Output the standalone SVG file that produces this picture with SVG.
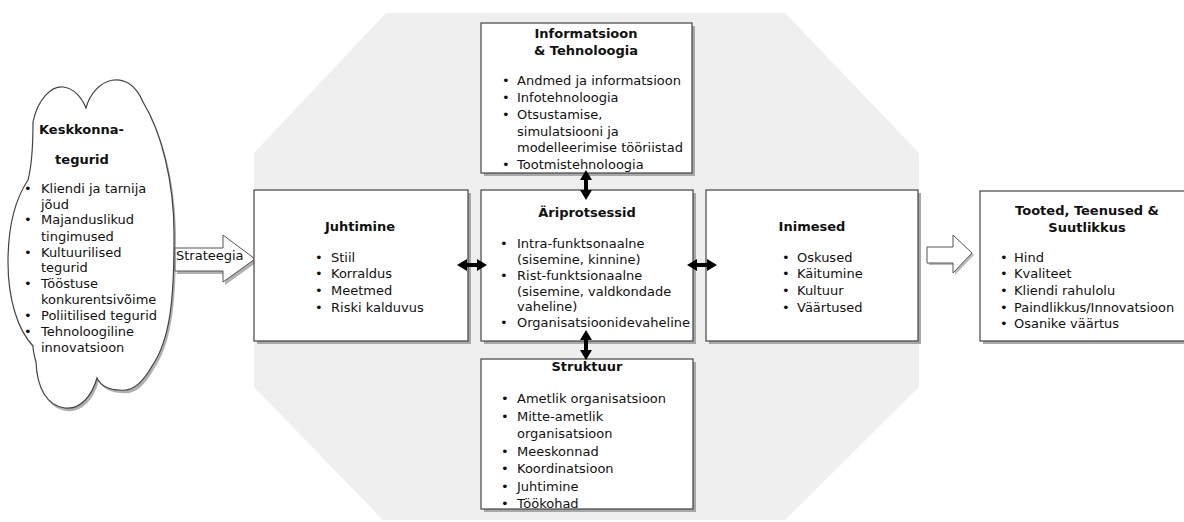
<svg xmlns="http://www.w3.org/2000/svg" width="1184" height="522" viewBox="0 0 1184 522">
<style>
text{font-family:"DejaVu Sans",Verdana,sans-serif;font-size:13px;fill:#111}
.b{font-weight:bold}
.m{text-anchor:middle}
.box{fill:#fff;stroke:#444;stroke-width:1.2}
.sh{fill:#a8a8a8}
.dbl{fill:#000}
.blk{fill:#fff;stroke:#555;stroke-width:1}
</style>
<defs>
<path id="dblv" d="M0,-15 L6,-5 L2,-5 L2,5 L6,5 L0,15 L-6,5 L-2,5 L-2,-5 L-6,-5 Z"/>
<path id="dblh" d="M-15,0 L-5,-6 L-5,-2 L5,-2 L5,-6 L15,0 L5,6 L5,2 L-5,2 L-5,6 Z"/>
</defs>
<rect width="1184" height="522" fill="#fff"/>
<polygon id="octagon" points="386,13 785,13 919,153 919,387 785,520 383,520 254,387 254,153" fill="#efefef"/>

<g id="cloud">
<path d="M86,108 C94,78 128,66 143,102 C160,130 175,180 174,240 C174,300 170,340 152,366 C142,384 132,392 120,390 C110,390 101,386 97,378 C92,396 80,410 65,408 C47,406 37,388 36,362 C34,355 33,350 33,346 C18,330 8,300 8,262 C8,220 18,195 28,180 C32,165 33,150 33,122 C38,98 52,86 63,87 C74,88 82,98 86,108 Z" fill="#b0b0b0" transform="translate(2,3)"/>
<path d="M86,108 C94,78 128,66 143,102 C160,130 175,180 174,240 C174,300 170,340 152,366 C142,384 132,392 120,390 C110,390 101,386 97,378 C92,396 80,410 65,408 C47,406 37,388 36,362 C34,355 33,350 33,346 C18,330 8,300 8,262 C8,220 18,195 28,180 C32,165 33,150 33,122 C38,98 52,86 63,87 C74,88 82,98 86,108 Z" fill="#fff" stroke="#444" stroke-width="1.2"/>
<text class="b" x="39" y="134">Keskkonna-</text>
<text class="b m" x="82" y="164">tegurid</text>
<text x="24" y="193">•</text><text x="41" y="193">Kliendi ja tarnija</text>
<text x="41" y="209">jõud</text>
<text x="24" y="224">•</text><text x="41" y="224">Majanduslikud</text>
<text x="41" y="241">tingimused</text>
<text x="24" y="257">•</text><text x="41" y="257">Kultuurilised</text>
<text x="41" y="272">tegurid</text>
<text x="24" y="288">•</text><text x="41" y="288">Tööstuse</text>
<text x="41" y="304">konkurentsivõime</text>
<text x="24" y="320">•</text><text x="41" y="320">Poliitilised tegurid</text>
<text x="24" y="336">•</text><text x="41" y="336">Tehnoloogiline</text>
<text x="41" y="352">innovatsioon</text>
</g>

<g id="strateegia">
<polygon points="175,248 223,248 223,235 255,259 223,282 223,271 175,271" fill="#b0b0b0" transform="translate(2,3)"/>
<polygon class="blk" points="175,248 223,248 223,235 255,259 223,282 223,271 175,271"/>
<text x="176" y="260">Strateegia</text>
</g>

<g id="output-arrow">
<polygon points="927,247 953,247 953,235 972,253 953,273 953,263 927,263" fill="#bbb" transform="translate(2,2)"/>
<polygon class="blk" points="927,247 953,247 953,235 972,253 953,273 953,263 927,263"/>
</g>

<g id="info">
<rect class="sh" x="484" y="26" width="211" height="150"/>
<rect class="box" x="481" y="23" width="211" height="150"/>
<text class="b m" x="586" y="38">Informatsioon</text>
<text class="b m" x="586" y="55">&amp; Tehnoloogia</text>
<text x="502" y="85">•</text><text x="517" y="85">Andmed ja informatsioon</text>
<text x="502" y="102">•</text><text x="517" y="102">Infotehnoloogia</text>
<text x="502" y="119">•</text><text x="517" y="119">Otsustamise,</text>
<text x="517" y="136">simulatsiooni ja</text>
<text x="517" y="152">modelleerimise tööriistad</text>
<text x="502" y="169">•</text><text x="517" y="169">Tootmistehnoloogia</text>
</g>

<g id="juhtimine">
<rect class="sh" x="257" y="193" width="214" height="151"/>
<rect class="box" x="254" y="190" width="214" height="151"/>
<text class="b m" x="360" y="231">Juhtimine</text>
<text x="315" y="262">•</text><text x="331" y="262">Stiil</text>
<text x="315" y="278">•</text><text x="331" y="278">Korraldus</text>
<text x="315" y="295">•</text><text x="331" y="295">Meetmed</text>
<text x="315" y="312">•</text><text x="331" y="312">Riski kalduvus</text>
</g>

<g id="ariprotsessid">
<rect class="sh" x="484" y="193" width="212" height="151"/>
<rect class="box" x="481" y="190" width="212" height="151"/>
<text class="b m" x="587" y="217">Äriprotsessid</text>
<text x="500" y="248">•</text><text x="517" y="248">Intra-funktsonaalne</text>
<text x="517" y="264">(sisemine, kinnine)</text>
<text x="500" y="280">•</text><text x="517" y="280">Rist-funktsionaalne</text>
<text x="517" y="296">(sisemine, valdkondade</text>
<text x="517" y="311">vaheline)</text>
<text x="500" y="327">•</text><text x="517" y="327">Organisatsioonidevaheline</text>
</g>

<g id="inimesed">
<rect class="sh" x="709" y="193" width="212" height="151"/>
<rect class="box" x="706" y="190" width="212" height="151"/>
<text class="b m" x="812" y="231">Inimesed</text>
<text x="782" y="262">•</text><text x="797" y="262">Oskused</text>
<text x="782" y="278">•</text><text x="797" y="278">Käitumine</text>
<text x="782" y="295">•</text><text x="797" y="295">Kultuur</text>
<text x="782" y="312">•</text><text x="797" y="312">Väärtused</text>
</g>

<g id="tooted">
<rect class="sh" x="983" y="194" width="220" height="150"/>
<rect class="box" x="980" y="191" width="220" height="150"/>
<text class="b m" x="1087" y="215">Tooted, Teenused &amp;</text>
<text class="b m" x="1087" y="232">Suutlikkus</text>
<text x="1000" y="262">•</text><text x="1014" y="262">Hind</text>
<text x="1000" y="278">•</text><text x="1014" y="278">Kvaliteet</text>
<text x="1000" y="295">•</text><text x="1014" y="295">Kliendi rahulolu</text>
<text x="1000" y="312">•</text><text x="1014" y="312">Paindlikkus/Innovatsioon</text>
<text x="1000" y="328">•</text><text x="1014" y="328">Osanike väärtus</text>
</g>

<g id="struktuur">
<rect class="sh" x="484" y="362" width="212" height="150"/>
<rect class="box" x="481" y="359" width="212" height="150"/>
<text class="b m" x="587" y="371">Struktuur</text>
<text x="501" y="403">•</text><text x="517" y="403">Ametlik organisatsioon</text>
<text x="501" y="421">•</text><text x="517" y="421">Mitte-ametlik</text>
<text x="517" y="438">organisatsioon</text>
<text x="501" y="456">•</text><text x="517" y="456">Meeskonnad</text>
<text x="501" y="473">•</text><text x="517" y="473">Koordinatsioon</text>
<text x="501" y="491">•</text><text x="517" y="491">Juhtimine</text>
<text x="501" y="508">•</text><text x="517" y="508">Töökohad</text>
</g>

<g id="connectors">
<use href="#dblv" class="dbl" transform="translate(586,185)"/>
<use href="#dblv" class="dbl" transform="translate(586,345)"/>
<use href="#dblh" class="dbl" transform="translate(472,265)"/>
<use href="#dblh" class="dbl" transform="translate(702,265)"/>
</g>
</svg>
